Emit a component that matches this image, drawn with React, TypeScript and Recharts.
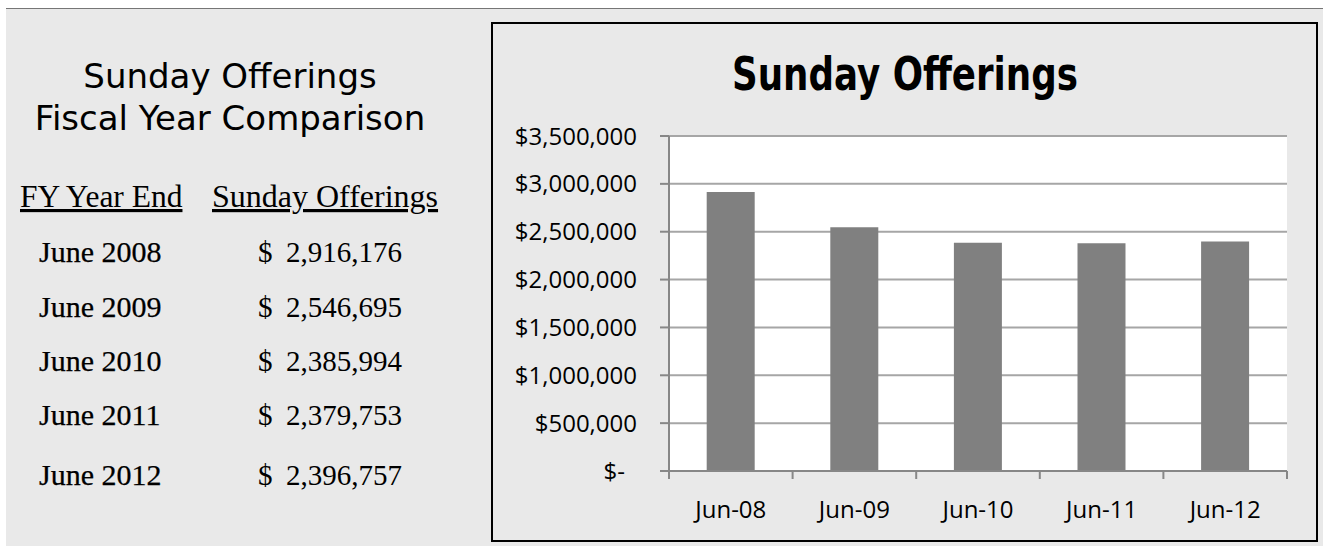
import React from "react";
import { BarChart, Bar, XAxis, YAxis, CartesianGrid } from "recharts";

const fiscalYears = ["June 2008", "June 2009", "June 2010", "June 2011", "June 2012"];
const categories = ["Jun-08", "Jun-09", "Jun-10", "Jun-11", "Jun-12"];
const offerings = [2916176, 2546695, 2385994, 2379753, 2396757];
const yTicks = [0, 500000, 1000000, 1500000, 2000000, 2500000, 3000000, 3500000];

const chartData = categories.map((c, i) => ({ month: c, value: offerings[i] }));

// layout for the left-hand table (baselines, px)
const rowY = [262, 317, 371, 425, 485];

const CHART_W = 822;
const CHART_H = 515;
const PLOT_W = 618;
const AXIS_GREY = "#878787";

const YTick = (props: any) => {
  const { x, y, payload } = props;
  const v = payload.value as number;
  const label = v === 0 ? "$-" : "$" + v.toLocaleString("en-US");
  return (
    <text
      x={v === 0 ? x - 12 : x}
      y={y}
      dy="0.355em"
      textAnchor="end"
      fontFamily="'Open Sans', sans-serif"
      fontSize={24}
      fill="#000"
    >
      {label}
    </text>
  );
};

const XTick = (props: any) => {
  const { x, y, payload, index } = props;
  const half = payload?.offset || PLOT_W / categories.length / 2;
  return (
    <g>
      <line x1={x - half} x2={x - half} y1={y} y2={y + 8} stroke={AXIS_GREY} strokeWidth={2} />
      {index === categories.length - 1 && (
        <line x1={x + half} x2={x + half} y1={y} y2={y + 8} stroke={AXIS_GREY} strokeWidth={2} />
      )}
      <text
        x={x}
        y={y + 47}
        textAnchor="middle"
        fontFamily="'Open Sans', sans-serif"
        fontSize={24}
        fill="#000"
      >
        {payload.value}
      </text>
    </g>
  );
};

export default function App() {
  return (
    <div
      style={{
        position: "absolute",
        left: 0,
        top: 0,
        width: 1323,
        height: 546,
        background: "#fff",
        overflow: "hidden",
      }}
    >
      <div
        style={{
          position: "absolute",
          left: 6,
          top: 8,
          width: 1317,
          height: 538,
          background: "#e9e9e9",
          borderTop: "1px solid #767676",
          boxSizing: "border-box",
        }}
      />
      <div
        style={{
          position: "absolute",
          left: 491,
          top: 22,
          width: 827,
          height: 520,
          border: "2px solid #000",
          boxSizing: "border-box",
        }}
      />
      <div style={{ position: "absolute", left: 493, top: 24 }}>
        <BarChart
          width={CHART_W}
          height={CHART_H}
          data={chartData}
          margin={{ top: 112, right: 28, bottom: 0, left: 0 }}
          barCategoryGap="30.5%"
        >
          <CartesianGrid vertical={false} stroke="#a6a6a6" strokeWidth={2} fill="#fff" fillOpacity={1} />
          <XAxis
            dataKey="month"
            height={68}
            interval={0}
            tickSize={0}
            tickMargin={0}
            tickLine={false}
            axisLine={{ stroke: AXIS_GREY, strokeWidth: 2 }}
            tick={<XTick />}
          />
          <YAxis
            width={176}
            domain={[0, 3500000]}
            ticks={yTicks}
            interval={0}
            tickSize={9}
            tickMargin={23}
            tickLine={{ stroke: AXIS_GREY, strokeWidth: 2 }}
            axisLine={{ stroke: AXIS_GREY, strokeWidth: 2 }}
            tick={<YTick />}
          />
          <Bar dataKey="value" fill="#808080" isAnimationActive={false} />
        </BarChart>
      </div>
      <svg
        width={1323}
        height={546}
        style={{ position: "absolute", left: 0, top: 0, pointerEvents: "none" }}
      >
        <g fontFamily="'DejaVu Sans', sans-serif" fontSize={34} fill="#000" textAnchor="middle">
          <text x={230} y={88}>Sunday Offerings</text>
          <text x={230} y={130}>Fiscal Year Comparison</text>
        </g>
        <text
          x={732}
          y={90}
          textLength={346}
          lengthAdjust="spacingAndGlyphs"
          fontFamily="'DejaVu Sans', sans-serif"
          fontWeight="bold"
          fontSize={47}
          fill="#000"
        >
          Sunday Offerings
        </text>
        <g fontFamily="'Liberation Serif', serif" fill="#000">
          <text x={20} y={207} fontSize={31.5} textDecoration="underline">FY Year End</text>
          <text x={212} y={207} fontSize={32} textDecoration="underline">Sunday Offerings</text>
          {fiscalYears.map((fy, i) => (
            <g key={fy}>
              <text x={39} y={rowY[i]} fontSize={30} stroke="#000" strokeWidth={0.25}>{fy}</text>
              <text x={258} y={rowY[i]} fontSize={29}>$</text>
              <text x={402} y={rowY[i]} fontSize={29} textAnchor="end">
                {offerings[i].toLocaleString("en-US")}
              </text>
            </g>
          ))}
        </g>
      </svg>
    </div>
  );
}
